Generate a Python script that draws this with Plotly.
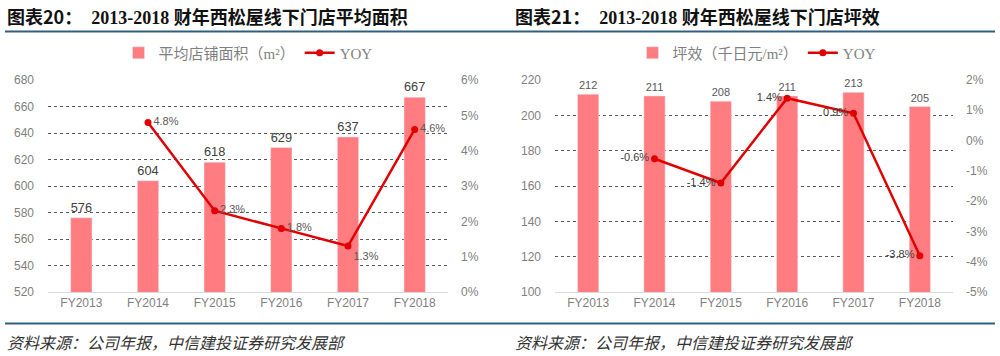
import plotly.graph_objects as go

categories = ["FY2013", "FY2014", "FY2015", "FY2016", "FY2017", "FY2018"]
area_values = [576, 604, 618, 629, 637, 667]
area_yoy = [None, 4.8, 2.3, 1.8, 1.3, 4.6]
eff_values = [212, 211, 208, 211, 213, 205]
eff_yoy = [None, -0.6, -1.4, 1.4, 0.9, -3.8]

left_ticks = [520, 540, 560, 580, 600, 620, 640, 660, 680]
left_pct_ticks = [0, 1, 2, 3, 4, 5, 6]
right_ticks = [100, 120, 140, 160, 180, 200, 220]
right_pct_ticks = [-5, -4, -3, -2, -1, 0, 1, 2]

BAR = "#FF7C80"
LINE = "#E00000"
GRAY = "#7F7F7F"
CJK = "Noto Sans CJK SC"
SERIF = "Liberation Serif, Noto Sans CJK SC"

def pct(v):
    return None if v is None else f"{v:.1f}%"

fig = go.Figure()

# Left chart
fig.add_trace(go.Bar(
    x=categories, y=area_values, name="平均店铺面积（m²）",
    marker_color=BAR, width=0.32, xaxis="x", yaxis="y",
    text=[str(v) for v in area_values], textposition="outside",
    textfont=dict(size=13, color="#404040", family="Liberation Sans"),
    cliponaxis=False, legend="legend",
))
fig.add_trace(go.Scatter(
    x=categories, y=area_yoy, name="YOY", mode="lines+markers+text",
    line=dict(color=LINE, width=2.5), marker=dict(size=7, color=LINE),
    text=[pct(v) for v in area_yoy],
    textposition=["middle right", "middle right", "middle right", "middle right", "bottom right", "middle right"],
    textfont=dict(size=11, color="#595959", family="Liberation Sans"),
    xaxis="x", yaxis="y2", cliponaxis=False, legend="legend",
))

# Right chart
fig.add_trace(go.Bar(
    x=categories, y=eff_values, name="坪效（千日元/m²）",
    marker_color=BAR, width=0.32, xaxis="x2", yaxis="y3",
    text=[str(v) for v in eff_values], textposition="outside",
    textfont=dict(size=11, color="#595959", family="Liberation Sans"),
    cliponaxis=False, legend="legend2",
))
fig.add_trace(go.Scatter(
    x=categories, y=eff_yoy, name="YOY", mode="lines+markers+text",
    line=dict(color=LINE, width=2.5), marker=dict(size=7, color=LINE),
    text=[pct(v) for v in eff_yoy],
    textposition="middle left",
    textfont=dict(size=11, color="#404040", family="Liberation Sans"),
    xaxis="x2", yaxis="y4", cliponaxis=False, legend="legend2",
))

top = 1 - 80 / 356
bot = 1 - 292 / 356

axis_font = dict(size=12, color=GRAY, family="Liberation Sans")
grid = dict(showgrid=True, gridcolor="#595959", griddash="dot", gridwidth=1)

fig.update_layout(
    width=1000, height=356,
    margin=dict(l=0, r=0, t=0, b=0, autoexpand=False),
    paper_bgcolor="white", plot_bgcolor="white",
    xaxis=dict(domain=[0.048, 0.448], anchor="y", showline=True, linecolor="#D9D9D9",
               tickfont=axis_font, ticks="", showgrid=False, automargin=False),
    yaxis=dict(domain=[bot, top], range=[520, 680], tickvals=left_ticks, tickfont=axis_font,
               showline=False, zeroline=False, ticklabelstandoff=13, automargin=False, **grid),
    yaxis2=dict(overlaying="y", side="right", anchor="x", range=[0, 6],
                tickvals=left_pct_ticks, ticktext=[f"{v}%" for v in left_pct_ticks],
                tickfont=axis_font, showgrid=False, zeroline=False, ticklabelstandoff=12,
                automargin=False),
    xaxis2=dict(domain=[0.555, 0.953], anchor="y3", showline=True, linecolor="#D9D9D9",
                tickfont=axis_font, ticks="", showgrid=False, automargin=False),
    yaxis3=dict(domain=[bot, top], anchor="x2", range=[100, 220], tickvals=right_ticks,
                tickfont=axis_font, showline=False, zeroline=False, ticklabelstandoff=13,
                automargin=False, **grid),
    yaxis4=dict(overlaying="y3", side="right", anchor="x2", range=[-5, 2],
                tickvals=right_pct_ticks, ticktext=[f"{v}%" for v in right_pct_ticks],
                tickfont=axis_font, showgrid=False, zeroline=False, ticklabelstandoff=12,
                automargin=False),
    legend=dict(orientation="h", x=0.248, xanchor="center", y=1 - 53 / 356, yanchor="middle",
                font=dict(size=15, color=GRAY, family=SERIF), bgcolor="rgba(0,0,0,0)"),
    legend2=dict(orientation="h", x=0.757, xanchor="center", y=1 - 53 / 356, yanchor="middle",
                 font=dict(size=15, color=GRAY, family=SERIF), bgcolor="rgba(0,0,0,0)"),
    showlegend=True,
)

# Titles
fig.add_annotation(text="<b><span style='font-family:Noto Sans CJK SC'>图表20：</span>  2013-2018 财年西松屋线下门店平均面积</b>",
                   xref="paper", yref="paper",
                   x=0.005, y=1 - 16 / 356, xanchor="left", yanchor="middle", showarrow=False,
                   font=dict(size=18, color="#111111", family=SERIF))
fig.add_annotation(text="<b><span style='font-family:Noto Sans CJK SC'>图表21：</span>  2013-2018 财年西松屋线下门店坪效</b>",
                   xref="paper", yref="paper",
                   x=0.513, y=1 - 16 / 356, xanchor="left", yanchor="middle", showarrow=False,
                   font=dict(size=18, color="#111111", family=SERIF))
# Sources
for xpos in (0.005, 0.513):
    fig.add_annotation(text="<i>资料来源：公司年报，中信建投证券研究发展部</i>", xref="paper", yref="paper",
                       x=xpos, y=1 - 342 / 356, xanchor="left", yanchor="middle", showarrow=False,
                       font=dict(size=16, color="#333333", family=CJK))

# Separator lines
for yy in (31.5, 323.5):
    fig.add_shape(type="line", xref="paper", yref="paper", x0=0.005, x1=0.995,
                  y0=1 - yy / 356, y1=1 - yy / 356, line=dict(color="#2E5F80", width=2))

fig.write_html("out.html", config={"displayModeBar": False},
               post_script="document.body.style.margin='0';document.body.style.overflow='hidden';")
